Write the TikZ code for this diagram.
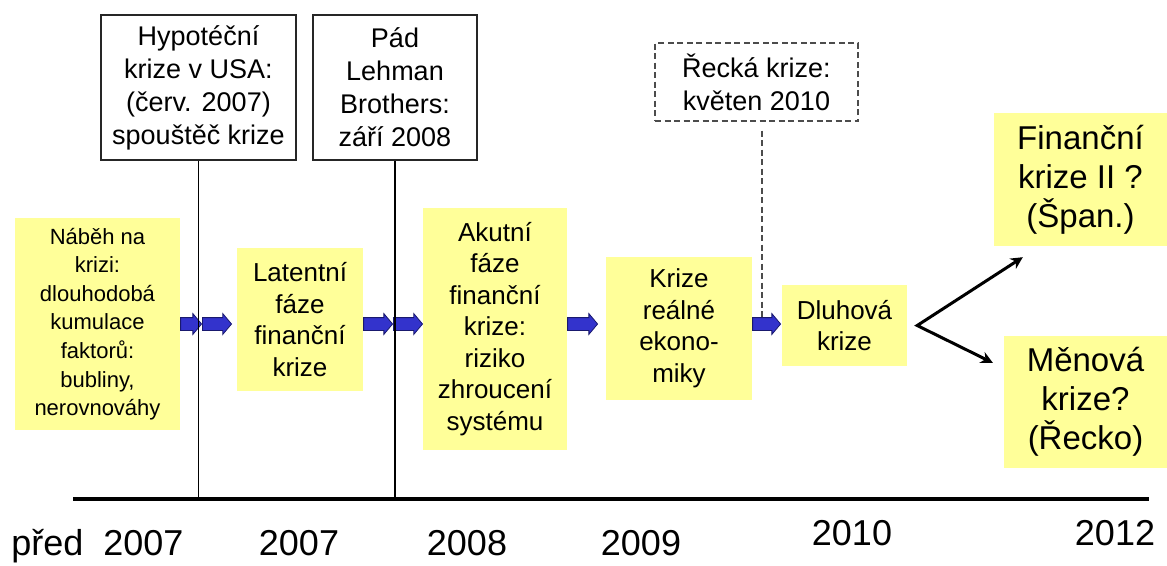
\documentclass[tikz,border=0pt]{standalone}
\usepackage{fontspec}
\setmainfont{Liberation Sans}
\usetikzlibrary{arrows.meta,shapes.arrows,positioning,calc}

\definecolor{phaseyellow}{RGB}{255,255,153}
\definecolor{arrowblue}{RGB}{51,51,204}
\definecolor{arrowedge}{RGB}{25,25,110}

\begin{document}
\begin{tikzpicture}[x=1pt, y=-1pt, >=Stealth]

        \def\lw{1.5pt}      % line width of the event boxes and their lines
        \def\ytl{499}       % height of the time line
        \def\ytop{87.5}     % middle of the upper event boxes
        \tikzset{fontscale/.style 2 args = {font={\fontsize{#1pt}{#2pt}\selectfont}}}
        \tikzstyle{phase}=[fill=phaseyellow,align=center,inner sep=0pt,fontscale={26}{31.5}]
        \tikzstyle{event}=[draw=black!85,line width=\lw,align=center,inner sep=0pt,fontscale={27}{33}]
        \tikzstyle{flow}=[single arrow,fill=arrowblue,draw=arrowedge,line width=0.8pt,inner xsep=0pt,inner ysep=6pt,
                          single arrow head extend=4pt,single arrow tip angle=100,anchor=tail]
        \tikzstyle{year}=[anchor=base,fontscale={36}{43}]

        \useasboundingbox (0,0) rectangle (1167,565);

        % Draw the phases of the crisis
        \node[phase,minimum width=165pt,minimum height=212pt,fontscale={22}{28.6}] (pre) at (97.5,324)
             {Náběh na\\krizi:\\dlouhodobá\\kumulace\\faktorů:\\bubliny,\\nerovnováhy};
        \node[phase,minimum width=126pt,minimum height=143pt] (latent) at (300,319.5)
             {Latentní\\fáze\\finanční\\krize};
        \node[phase,minimum width=144pt,minimum height=242pt] (acute) at (495,329)
             {Akutní\\fáze\\finanční\\krize:\\riziko\\zhroucení\\systému};
        \node[phase,minimum width=146pt,minimum height=143pt] (real) at (679,328.5)
             {Krize\\reálné\\ekono-\\miky};
        \node[phase,minimum width=125pt,minimum height=81pt] (debt) at (844.5,325.5)
             {Dluhová\\krize};
        \node[phase,minimum width=173pt,minimum height=133pt,fontscale={33}{39}] (fin2) at (1080.5,179.5)
             {Finanční\\krize II ?\\(Špan.)};
        \node[phase,minimum width=163pt,minimum height=132pt,fontscale={33}{39}] (curr) at (1085.5,402)
             {Měnová\\krize?\\(Řecko)};

        % Draw the events above
        \node[event,minimum width=195pt,minimum height=145pt] (usa) at (198.5,\ytop)
             {Hypotéční\\krize v USA:\\(červ. 2007)\\spouštěč krize};
        \node[event,minimum width=164pt,minimum height=145pt] (lehman) at (395,\ytop)
             {Pád\\Lehman\\Brothers:\\září 2008};
        \node[event,draw=black!70,line width=1.2pt,dash pattern=on 6pt off 3.5pt,
              minimum width=203pt,minimum height=78pt] (greek) at (756.5,82)
             {Řecká krize:\\květen 2010};

        % Blue arrows between the phases
        \node[flow,minimum height=21pt] (f1) at (pre.east) {};
        \node[flow,minimum height=29pt] (f2) at (f1.tip) {};
        \node[flow,minimum height=29pt] (f3) at (latent.east |- pre.east) {};
        \node[flow,minimum height=29pt] (f4) at (f3.tip) {};
        \node[flow,minimum height=30pt] (f5) at (acute.east |- pre.east) {};
        \node[flow,minimum height=28pt] (f6) at (real.east |- pre.east) {};

        % Time line and the event lines
        \coordinate (tl-start) at (73,\ytl);
        \coordinate (tl-end) at (1149,\ytl);
        \draw[line width=3.5pt] (tl-start) -- (tl-end);
        \draw[line width=\lw] (usa) -- (usa |- tl-start);
        \draw[line width=\lw] (lehman) -- (lehman |- tl-start);
        \coordinate (greek-foot) at ([xshift=5.5pt,yshift=-9pt]greek.south);
        \draw[line width=1.2pt,black!70,dash pattern=on 6pt off 3.5pt] (greek-foot) -- (greek-foot |- f6.north);

        % Fork to the two possible outcomes
        \coordinate (fork) at ([xshift=10pt]debt.east);
        \draw[line width=3pt,{Stealth[length=12pt,width=12pt]}-{Stealth[length=12pt,width=12pt]}]
             ($(fin2.south west)+(29,11)$) -- (fork) -- ($(curr.north west)+(-11,27)$);

        % Years
        \node[year] (y-pre) at (97.5,555) {před~~2007};
        \foreach \xx/\yr in {299/2007,467/2008,641/2009}
            \node[year] (y-\yr) at (\xx,555) {\yr};
        \foreach \xx/\yr in {852/2010,1115/2012}
            \node[year] (y-\yr) at (\xx,545) {\yr};

\end{tikzpicture}
\end{document}
